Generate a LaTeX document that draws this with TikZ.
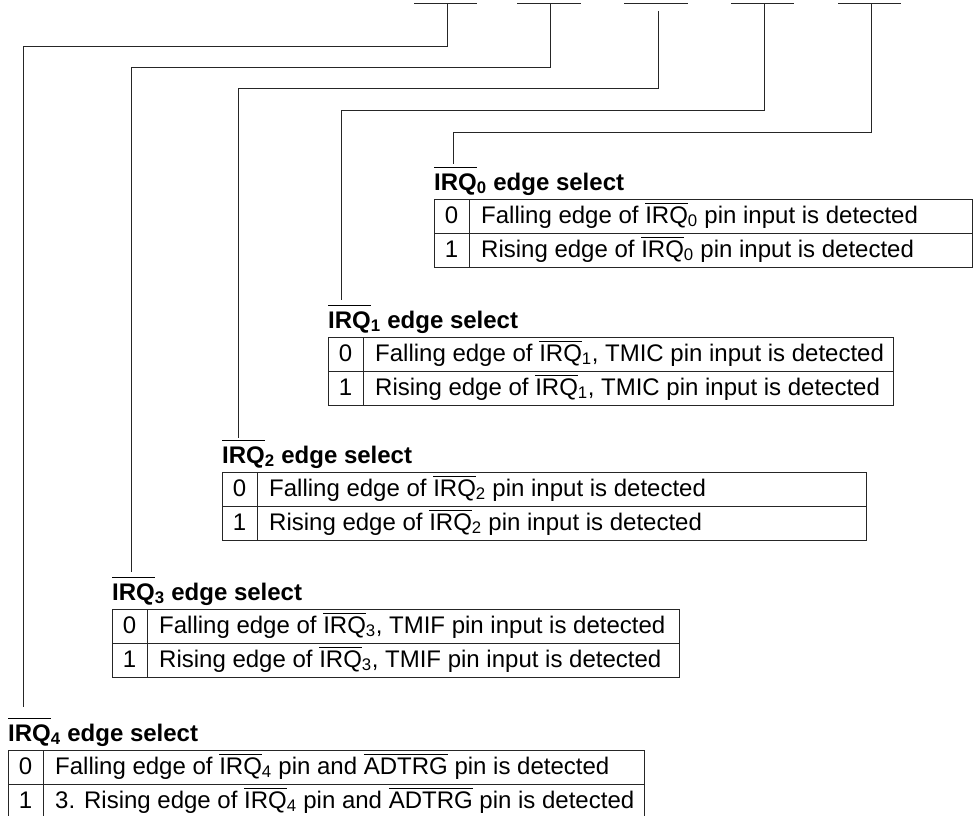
\documentclass[tikz,border=0pt]{standalone}
\usepackage{fontspec}
\setmainfont{Liberation Sans}
\newcommand{\ovbar}[2][2pt]{\setbox0=\hbox{#2}\hbox{\rlap{\raisebox{\dimexpr\ht0+#1\relax}{\rule{\wd0}{0.9pt}}}\box0}}
\newcommand{\irq}[1]{\ovbar{IRQ}\textsubscript{#1}}
\newcommand{\irqh}[1]{\ovbar[5.5pt]{IRQ}\textsubscript{#1}}
\tikzset{
  line/.style={draw=black!85, line width=1pt},
  hdr/.style={anchor=base west, inner sep=0pt, font=\fontsize{24}{28}\selectfont\bfseries},
  cell/.style={anchor=base west, inner sep=0pt, font=\fontsize{24}{28}\selectfont},
  num/.style={anchor=base, inner sep=0pt, font=\fontsize{24}{28}\selectfont}
}
% #1 id, #2 left, #3 right, #4 top, #5 index, #6 row 0 text, #7 row 1 text
\newcommand{\regtab}[7]{%
  \node[hdr] (h#1) at (#2,#4-9) {\irqh{#5} edge select};
  \draw[line] (#2,#4) rectangle (#3,#4+68);
  \draw[line] (#2,#4+34) -- (#3,#4+34);
  \draw[line] (#2+35,#4) -- (#2+35,#4+68);
  \node[num] (n#1a) at (#2+17.5,#4+24) {0};
  \node[num] (n#1b) at (#2+17.5,#4+58) {1};
  \node[cell] (r#1a) at (#2+47,#4+24) {#6};
  \node[cell] (r#1b) at (#2+47,#4+58) {#7};
}
\begin{document}
\begin{tikzpicture}[x=1pt,y=-1pt]
\useasboundingbox (0,0) rectangle (975,816);
% register bit bars
\foreach \l/\r/\n in {414/477/1,517/581/2,624/688/3,731/794/4,838/901/5}{
  \coordinate (bl\n) at (\l,4);
  \coordinate (br\n) at (\r,4);
  \draw[line] (bl\n) -- (br\n);
}
% connector start points
\coordinate (v1) at (447,4);
\coordinate (v2) at (550,4);
\coordinate (v3) at (658,11);
\coordinate (v4) at (764,4);
\coordinate (v5) at (871,4);
% connector end points
\coordinate (e4) at (23,707);
\coordinate (e3) at (131,572);
\coordinate (e2) at (238,438);
\coordinate (e1) at (341,300);
\coordinate (e0) at (453,164);
\draw[line] (v1) -- (447,47) -| (e4);
\draw[line] (v2) -- (550,68) -| (e3);
\draw[line] (v3) -- (658,89) -| (e2);
\draw[line] (v4) -- (764,110) -| (e1);
\draw[line] (v5) -- (871,132) -| (e0);
% tables
\regtab{0}{434}{972}{199}{0}{Falling edge of \irq{0} pin input is detected}{Rising edge of \irq{0} pin input is detected}
\regtab{1}{328}{893}{337}{1}{Falling edge of \irq{1}, TMIC pin input is detected}{Rising edge of \irq{1}, TMIC pin input is detected}
\regtab{2}{222}{866}{472}{2}{Falling edge of \irq{2} pin input is detected}{Rising edge of \irq{2} pin input is detected}
\regtab{3}{112}{679}{609}{3}{Falling edge of \irq{3}, TMIF pin input is detected}{Rising edge of \irq{3}, TMIF pin input is detected}
\regtab{4}{8}{644}{750}{4}{Falling edge of \irq{4} pin and \ovbar{ADTRG} pin is detected}{3. Rising edge of \irq{4} pin and \ovbar{ADTRG} pin is detected}
\end{tikzpicture}
\end{document}
